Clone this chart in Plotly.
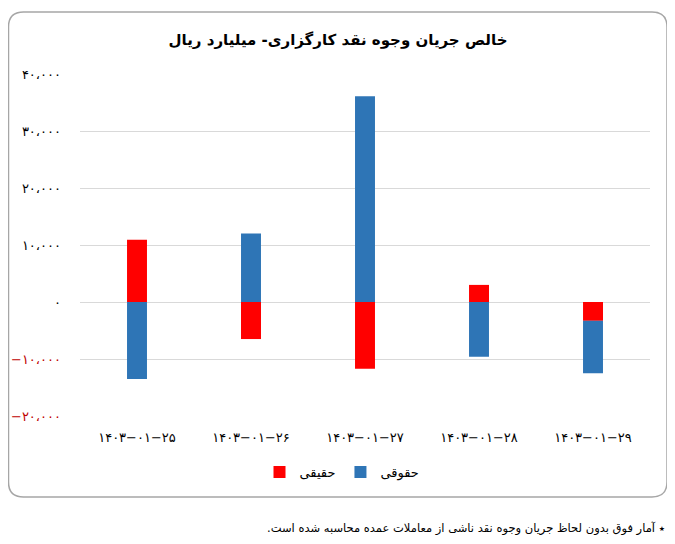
import plotly.graph_objects as go

# ---- data ----
categories = ["۱۴۰۳−۰۱−۲۵", "۱۴۰۳−۰۱−۲۶", "۱۴۰۳−۰۱−۲۷", "۱۴۰۳−۰۱−۲۸", "۱۴۰۳−۰۱−۲۹"]
haghighi = [10900, -6500, -11700, 3000, -3300]      # حقیقی (red)
hoghoghi = [-13500, 12000, 36100, -9600, -9200]     # حقوقی (blue)
tick_vals = [-20000, -10000, 0, 10000, 20000, 30000, 40000]
tick_text = [
    "<span style='color:#C00000'>−۲۰،۰۰۰</span>",
    "<span style='color:#C00000'>−۱۰،۰۰۰</span>",
    "۰",
    "۱۰،۰۰۰",
    "۲۰،۰۰۰",
    "۳۰،۰۰۰",
    "۴۰،۰۰۰",
]
series_names = ["حقیقی", "حقوقی"]
title_text = "خالص جریان وجوه نقد کارگزاری- میلیارد ریال"
footnote = "\u200f٭ آمار فوق بدون لحاظ جریان وجوه نقد ناشی از معاملات عمده محاسبه شده است.\u200f"

# page body has an 8px margin; work in reference pixels and shift
OFF = 8
W, H = 675 - OFF, 544 - OFF
ML, MT = 80 - OFF, 74 - OFF
pw, ph = 570, 342
MR = W - ML - pw
MB = H - MT - ph

fig = go.Figure()
fig.add_trace(go.Bar(x=categories, y=haghighi, name=series_names[0],
                     marker=dict(color="#FF0000", line=dict(width=0))))
fig.add_trace(go.Bar(x=categories, y=hoghoghi, name=series_names[1],
                     marker=dict(color="#2E75B6", line=dict(width=0))))

# convert reference (screen) pixel coords -> paper coords
def px2x(p):
    return (p - OFF - ML) / pw

def py2y(p):
    return (H - MB - (p - OFF)) / ph

fx0, fx1, fy0, fy1 = 8.5, 667, 12, 497
r = 15
rx, ry = r / pw, r / ph
X0, X1 = px2x(fx0), px2x(fx1)
YT, YB = py2y(fy0), py2y(fy1)
path = (f"M {X0+rx} {YT} L {X1-rx} {YT} Q {X1} {YT} {X1} {YT-ry} "
        f"L {X1} {YB+ry} Q {X1} {YB} {X1-rx} {YB} "
        f"L {X0+rx} {YB} Q {X0} {YB} {X0} {YB+ry} "
        f"L {X0} {YT-ry} Q {X0} {YT} {X0+rx} {YT} Z")
fig.add_shape(type="path", path=path, xref="paper", yref="paper",
              line=dict(color="#A6A6A6", width=1.5), layer="below")

fig.add_annotation(text=footnote, xref="paper", yref="paper",
                   x=px2x(667), y=py2y(528), xanchor="right", yanchor="middle",
                   showarrow=False, font=dict(size=11.5, color="#000000",
                                              family="DejaVu Sans"))

fig.update_layout(
    width=W, height=H,
    margin=dict(l=ML, r=MR, t=MT, b=MB, autoexpand=False),
    paper_bgcolor="white", plot_bgcolor="white",
    barmode="relative", bargap=0.825,
    title=dict(text="<b>" + title_text + "</b>", x=(338 - OFF) / W, xanchor="center",
               y=1 - (40 - OFF) / H, yanchor="middle",
               font=dict(size=15, color="#000000", family="DejaVu Sans")),
    font=dict(family="DejaVu Sans", color="#000000"),
    showlegend=True,
    legend=dict(orientation="h", x=px2x(342), xanchor="center",
                y=py2y(472), yanchor="middle", font=dict(size=13),
                traceorder="normal", itemwidth=30),
    xaxis=dict(showgrid=False, showline=False, ticks="", tickfont=dict(size=13),
               ticklabelstandoff=12, automargin=False),
    yaxis=dict(range=[-20000, 40000], tickvals=tick_vals, ticktext=tick_text,
               showgrid=True, gridcolor="#D9D9D9", gridwidth=1,
               zeroline=True, zerolinecolor="#D9D9D9", zerolinewidth=1,
               tickfont=dict(size=13), ticklabelstandoff=18, showline=False,
               automargin=False),
)

fig.write_html("out.html")
